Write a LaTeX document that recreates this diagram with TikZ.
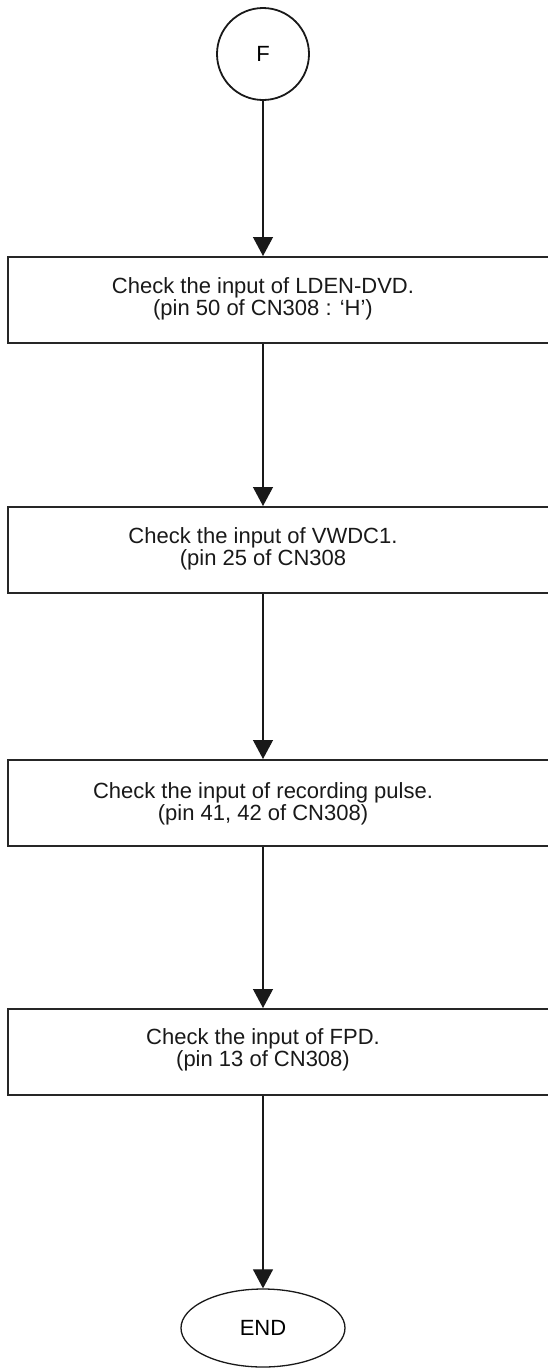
\documentclass[tikz,border=0pt]{standalone}
\usepackage{fontspec}
\setmainfont{Liberation Sans}
\usetikzlibrary{arrows.meta,shapes.geometric}
\begin{document}
\begin{tikzpicture}[x=1pt,y=-1pt,
  stepbox/.style={draw=black!85, line width=1.8pt, rectangle, minimum height=86pt, minimum width=560pt, anchor=north west, inner sep=0pt},
  txt/.style={font=\fontsize{22}{20}\selectfont, align=center, inner sep=0pt, text=black!90},
  flow/.style={draw=black!90, line width=1.2pt, -{Triangle[width=20pt,length=19pt]}},
  term/.style={draw=black!90, font=\fontsize{22}{20}\selectfont, inner sep=0pt}
]
\clip (0,0) rectangle (548,1369);
\node[term, circle, line width=1.8pt, minimum size=92pt] (F) at (263,54) {F};
\node[stepbox] (b1) at (7,256) {};
\node[txt] (t1) at (263,299) {Check the input of LDEN-DVD.\\(pin 50 of CN308 : ‘H’)};
\node[stepbox] (b2) at (7,506) {};
\node[txt] (t2) at (263,549) {Check the input of VWDC1.\\(pin 25 of CN308};
\node[stepbox] (b3) at (7,759) {};
\node[txt] (t3) at (263,804) {Check the input of recording pulse.\\(pin 41, 42 of CN308)};
\node[stepbox] (b4) at (7,1008) {};
\node[txt] (t4) at (263,1050) {Check the input of FPD.\\(pin 13 of CN308)};
\node[term, ellipse, line width=1.3pt, minimum width=164pt, minimum height=78pt] (E) at (263,1328) {END};
\draw[flow] (F.south) -- (F.south |- b1.north);
\draw[flow] (F.south |- b1.south) -- (F.south |- b2.north);
\draw[flow] (F.south |- b2.south) -- (F.south |- b3.north);
\draw[flow] (F.south |- b3.south) -- (F.south |- b4.north);
\draw[flow] (F.south |- b4.south) -- (E.north);
\end{tikzpicture}
\end{document}
